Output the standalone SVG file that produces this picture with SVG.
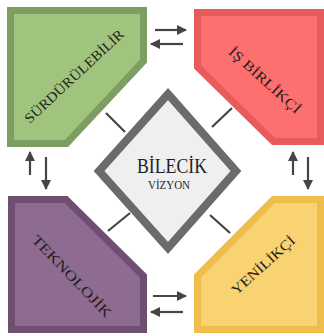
<svg xmlns="http://www.w3.org/2000/svg" width="324" height="336" viewBox="0 0 324 336">
<defs>
<style>
.lbl{font-family:"Liberation Serif","DejaVu Serif",serif;fill:#1f1f1f;text-anchor:middle}
.arr{stroke:#454545;stroke-width:2.2;fill:none}
.tick{stroke:#444;stroke-width:2.2}
</style>
<marker id="ah" viewBox="0 0 10 10" refX="9" refY="5" markerWidth="4.6" markerHeight="4.6" orient="auto" markerUnits="strokeWidth">
<path d="M0,0 L10,5 L0,10 Z" fill="#454545"/>
</marker>
</defs>
<rect width="324" height="336" fill="#ffffff"/>
<g id="surdurulebilir">
<polygon points="10.5,10.5 143.5,10.5 143.5,61 66.5,143.5 10.5,143.5" fill="#a0c47d" stroke="#7e9d60" stroke-width="7" stroke-linejoin="miter"/>
<text class="lbl" font-size="14" textLength="130" lengthAdjust="spacingAndGlyphs" transform="translate(74,76) rotate(-43)" dy="5">SÜRDÜRÜLEBİLİR</text>
</g>
<g id="isbirlikci">
<polygon points="197.5,12.5 320.5,12.5 320.5,141.5 273.5,141.5 197.5,67" fill="#fe6f6f" stroke="#e85b5b" stroke-width="7"/>
<text class="lbl" font-size="14" textLength="92" lengthAdjust="spacingAndGlyphs" transform="translate(265,80) rotate(42)" dy="5">İŞ BİRLİKÇİ</text>
</g>
<g id="teknolojik">
<polygon points="11.5,199.5 66,199.5 143.5,276 143.5,329.5 11.5,329.5" fill="#8e6b91" stroke="#6e4f71" stroke-width="7"/>
<text class="lbl" font-size="14" textLength="108" lengthAdjust="spacingAndGlyphs" transform="translate(72,276) rotate(46)" dy="5">TEKNOLOJİK</text>
</g>
<g id="yenilikci">
<polygon points="273.5,199.5 320.5,199.5 320.5,329.5 197.5,329.5 197.5,276" fill="#f9d272" stroke="#efbd4c" stroke-width="7"/>
<text class="lbl" font-size="14" textLength="80" lengthAdjust="spacingAndGlyphs" transform="translate(263,265) rotate(-42)" dy="5">YENİLİKÇİ</text>
</g>
<g id="bilecik">
<polygon points="168,94 236,171 168,248 99,171" fill="#efefef" stroke="#6b6b6b" stroke-width="8"/>
<text class="lbl" font-size="20" textLength="70" lengthAdjust="spacingAndGlyphs" x="172" y="173">BİLECİK</text>
<text class="lbl" font-size="12" textLength="42" lengthAdjust="spacingAndGlyphs" x="169" y="189">VİZYON</text>
</g>
<g id="connectors">
<line class="tick" x1="106" y1="113" x2="125" y2="132"/>
<line class="tick" x1="212" y1="127" x2="232" y2="108"/>
<line class="tick" x1="108" y1="231" x2="130" y2="213"/>
<line class="tick" x1="210" y1="215" x2="230" y2="233"/>
<line class="arr" x1="155" y1="30" x2="186" y2="30" marker-end="url(#ah)"/>
<line class="arr" x1="183" y1="44" x2="151" y2="44" marker-end="url(#ah)"/>
<line class="arr" x1="153" y1="296" x2="186" y2="296" marker-end="url(#ah)"/>
<line class="arr" x1="183" y1="312" x2="151" y2="312" marker-end="url(#ah)"/>
<line class="arr" x1="30" y1="175" x2="30" y2="152" marker-end="url(#ah)"/>
<line class="arr" x1="46" y1="157" x2="46" y2="189" marker-end="url(#ah)"/>
<line class="arr" x1="293" y1="175" x2="293" y2="152" marker-end="url(#ah)"/>
<line class="arr" x1="308" y1="157" x2="308" y2="189" marker-end="url(#ah)"/>
</g>
</svg>
